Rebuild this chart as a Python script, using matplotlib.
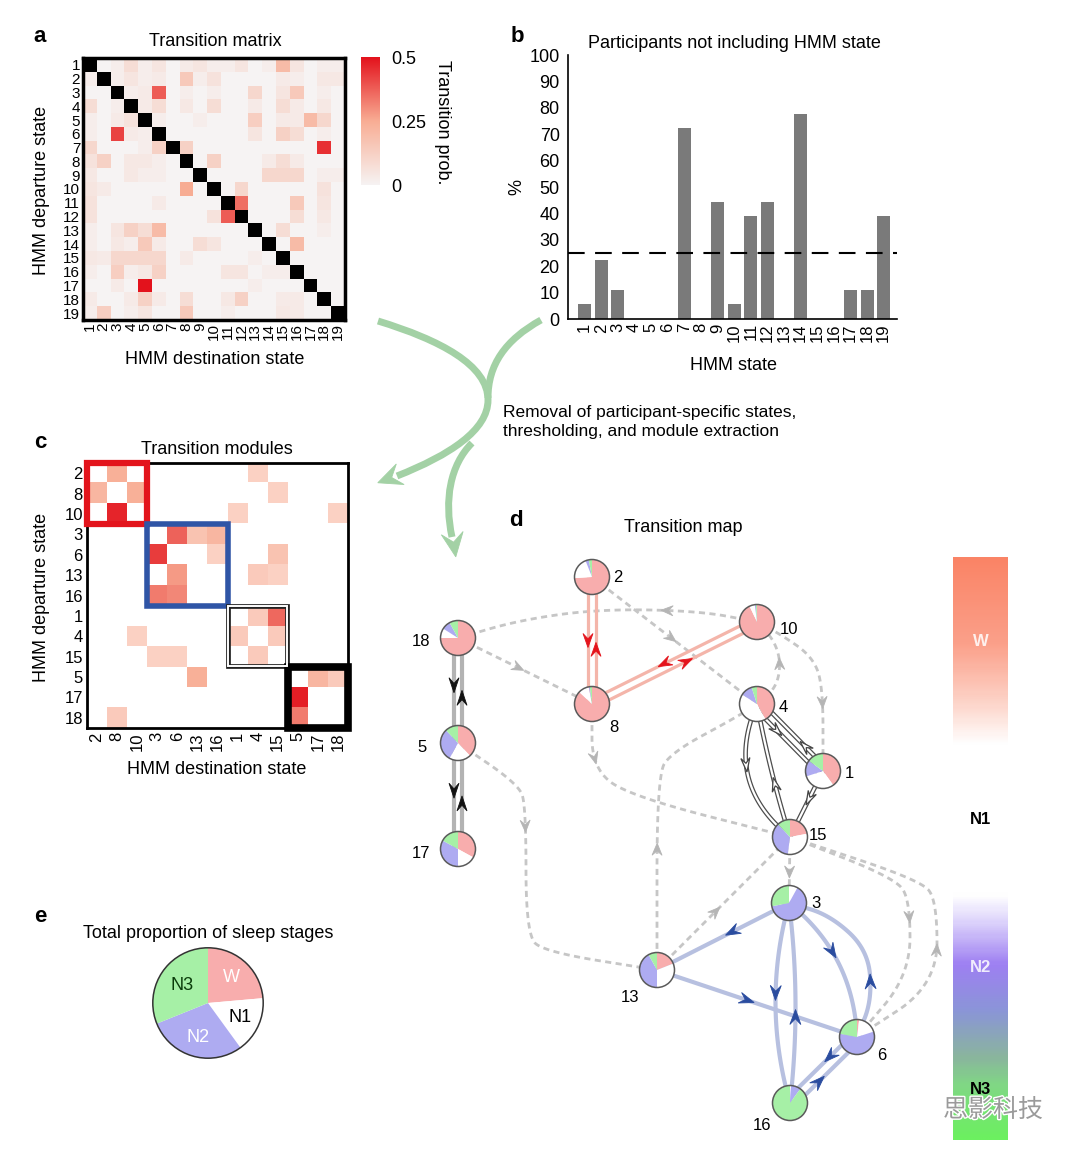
import numpy as np
import matplotlib
matplotlib.use("Agg")
import matplotlib.pyplot as plt
from matplotlib.colors import LinearSegmentedColormap
from matplotlib.patches import Wedge, Circle, Polygon, Rectangle, PathPatch
from matplotlib.path import Path
import matplotlib.patheffects as pe

plt.rcParams['font.family'] = ['Liberation Sans', 'DejaVu Sans']

# ---------------------------------------------------------------- data
D = np.nan
states_a = list(range(1, 20))
trans_prob_a = [
    [D, 0, .02, .08, .02, .05, 0, .03, .05, .02, .02, .05, 0, .02, .20, .05, 0, .02, .02],
    [.02, D, .02, .05, .02, .03, 0, .15, .02, .06, 0, 0, 0, 0, .03, .02, 0, .04, .04],
    [0, 0, D, .02, .03, .38, 0, .02, 0, .02, 0, 0, .10, 0, .05, .15, 0, .02, 0],
    [.08, 0, .02, D, .03, .08, 0, .04, 0, .08, 0, 0, .03, 0, .08, .03, 0, .04, 0],
    [.02, 0, .03, .06, D, .02, 0, 0, .02, 0, 0, 0, .13, 0, .03, .03, .20, .10, 0],
    [.02, 0, .42, .03, .02, D, 0, 0, 0, 0, 0, 0, .05, 0, .12, .08, 0, .02, 0],
    [.10, 0, 0, 0, .02, .12, D, .12, 0, 0, 0, 0, 0, 0, 0, 0, 0, .45, 0],
    [.06, .12, 0, .04, .04, .02, 0, D, 0, .12, 0, 0, 0, .03, .08, .03, 0, 0, 0],
    [.04, 0, 0, .04, .02, .02, 0, 0, D, 0, 0, 0, 0, .10, .10, .10, 0, .02, .02],
    [.05, .03, 0, 0, 0, 0, 0, .25, 0, D, 0, .10, 0, 0, 0, 0, 0, .06, 0],
    [.06, 0, 0, 0, 0, .03, 0, 0, 0, 0, D, .35, 0, 0, 0, .15, 0, .05, 0],
    [.06, 0, 0, 0, 0, 0, 0, 0, 0, .06, .38, D, 0, 0, 0, .08, 0, .04, 0],
    [.02, 0, .05, .12, .08, .20, 0, 0, 0, 0, 0, 0, D, 0, .08, 0, 0, .02, 0],
    [.02, 0, .04, .02, .15, .03, 0, 0, .08, .05, 0, 0, 0, D, 0, .20, 0, 0, 0],
    [.04, .03, .10, .10, .10, .10, 0, .03, 0, 0, 0, 0, .02, 0, D, 0, 0, 0, 0],
    [.02, 0, .13, .02, .04, .12, 0, 0, 0, 0, .05, .05, 0, .02, .02, D, 0, 0, 0],
    [0, 0, .03, 0, .50, 0, 0, 0, 0, 0, 0, 0, .02, 0, 0, 0, D, 0, 0],
    [.03, 0, 0, .03, .12, .03, 0, .08, 0, 0, .04, .12, 0, 0, .03, .03, 0, D, 0],
    [.02, .13, 0, .02, .05, 0, 0, .15, 0, 0, .02, 0, 0, 0, .04, .03, 0, 0, D],
]
cbar_ticks_a = [0, 0.25, 0.5]
cbar_ticklabels_a = ['0', '0.25', '0.5']

bar_states = list(range(1, 20))
pct_not_including = [5.56, 22.2, 11.1, 0, 0, 0, 72.2, 0, 44.4, 5.56,
                     38.9, 44.4, 0, 77.8, 0, 0, 11.1, 11.1, 38.9]
threshold_pct = 25

module_order = [2, 8, 10, 3, 6, 13, 16, 1, 4, 15, 5, 17, 18]
module_sizes = [3, 4, 3, 3]
trans_prob_c = [
    [0, .24, 0, 0, 0, 0, 0, 0, .14, 0, 0, 0, 0],
    [.22, 0, .24, 0, 0, 0, 0, 0, 0, .14, 0, 0, 0],
    [0, .47, 0, 0, 0, 0, 0, .14, 0, 0, 0, 0, .14],
    [0, 0, 0, 0, .37, .18, .22, 0, 0, 0, 0, 0, 0],
    [0, 0, 0, .43, 0, 0, .14, 0, 0, .18, 0, 0, 0],
    [0, 0, 0, 0, .28, 0, 0, 0, .16, .14, 0, 0, 0],
    [0, 0, 0, .33, .31, 0, 0, 0, 0, 0, 0, 0, 0],
    [0, 0, 0, 0, 0, 0, 0, 0, .16, .36, 0, 0, 0],
    [0, 0, .14, 0, 0, 0, 0, .16, 0, .16, 0, 0, 0],
    [0, 0, 0, .14, .14, 0, 0, 0, .16, 0, 0, 0, 0],
    [0, 0, 0, 0, 0, .24, 0, 0, 0, 0, 0, .22, .16],
    [0, 0, 0, 0, 0, 0, 0, 0, 0, 0, .48, 0, 0],
    [0, .16, 0, 0, 0, 0, 0, 0, 0, 0, .33, 0, 0],
]

stage_names = ['W', 'N1', 'N2', 'N3']
total_stage_prop = [0.236, 0.164, 0.289, 0.311]
node_stage_prop = {
    2: [0.74, 0.20, 0.03, 0.03], 10: [0.93, 0.05, 0.01, 0.01],
    8: [0.87, 0.10, 0.01, 0.02], 18: [0.75, 0.09, 0.08, 0.08],
    4: [0.42, 0.42, 0.11, 0.05], 1: [0.40, 0.30, 0.15, 0.15],
    5: [0.38, 0.20, 0.30, 0.12], 17: [0.33, 0.17, 0.33, 0.17],
    15: [0.22, 0.30, 0.36, 0.12], 3: [0.00, 0.08, 0.64, 0.28],
    13: [0.19, 0.31, 0.42, 0.08], 6: [0.02, 0.18, 0.58, 0.22],
    16: [0.00, 0.01, 0.09, 0.90],
}
# transitions of the map: (from, to, module)
map_edges = [
    (2, 8, 'W'), (8, 2, 'W'), (10, 8, 'W'), (8, 10, 'W'),
    (18, 5, 'K'), (5, 18, 'K'), (5, 17, 'K'), (17, 5, 'K'),
    (4, 15, 'N1'), (15, 4, 'N1'), (4, 1, 'N1'), (1, 4, 'N1'), (1, 15, 'N1'),
    (3, 13, 'N2'), (13, 6, 'N2'), (3, 16, 'N2'), (16, 3, 'N2'),
    (3, 6, 'N2'), (6, 3, 'N2'), (6, 16, 'N2'), (16, 6, 'N2'),
    (18, 8, 'X'), (10, 18, 'X'), (2, 4, 'X'), (4, 10, 'X'), (10, 1, 'X'),
    (8, 15, 'X'), (5, 13, 'X'), (13, 4, 'X'), (13, 15, 'X'), (15, 3, 'X'),
    (15, 6, 'X'), (6, 15, 'X'),
]
scale_labels = ['W', 'N1', 'N2', 'N3']

# ---------------------------------------------------------------- layout / style
W, H = 1080, 1159
fig = plt.figure(figsize=(W / 100, H / 100), dpi=100)
fig.patch.set_facecolor('white')


def add_ax(l, t, r, b, **kw):
    return fig.add_axes([l / W, 1 - b / H, (r - l) / W, (b - t) / H], **kw)


stage_colors = ['#f8adad', '#ffffff', '#aeabf1', '#a6f0a6']
TXT = 13

ov = add_ax(0, 0, W, H)
ov.set_xlim(0, W)
ov.set_ylim(H, 0)
ov.axis('off')

# panel letters
for lab, (x, y) in {'a': (40, 36), 'b': (517, 36), 'c': (40, 442),
                    'd': (516, 520), 'e': (40, 916)}.items():
    ov.text(x, y, lab, fontsize=16, fontweight='bold', ha='center', va='center')

# ---------------------------------------------------------------- panel a
cmap_a = LinearSegmentedColormap.from_list('a', [(0, '#f6f3f3'), (0.5, '#f8ad94'), (1, '#e3121c')])
cmap_a.set_bad('black')
axa = add_ax(83, 58, 345, 320)
im = axa.imshow(np.array(trans_prob_a), cmap=cmap_a, vmin=0, vmax=0.5,
                aspect='auto', interpolation='nearest')
axa.set_xticks(range(len(states_a)))
axa.set_xticklabels(states_a, rotation=90, fontsize=11)
axa.set_yticks(range(len(states_a)))
axa.set_yticklabels(states_a, fontsize=11)
axa.tick_params(length=0, pad=2)
for s in axa.spines.values():
    s.set_linewidth(2.5)
ov.text(215, 42, 'Transition matrix', fontsize=TXT, ha='center', va='center')
ov.text(42, 190, 'HMM departure state', fontsize=TXT, ha='center', va='center', rotation=90)
ov.text(215, 360, 'HMM destination state', fontsize=TXT, ha='center', va='center')

cax = add_ax(361, 57, 380, 185)
cb = fig.colorbar(im, cax=cax, ticks=cbar_ticks_a)
cb.set_ticklabels(cbar_ticklabels_a)
cb.outline.set_visible(False)
cax.tick_params(length=0, labelsize=13, pad=8)
ov.text(442, 122, 'Transition prob.', fontsize=TXT, ha='center', va='center', rotation=-90)

# ---------------------------------------------------------------- panel b
axb = add_ax(568, 55, 897, 319)
axb.bar(bar_states, pct_not_including, width=0.78, color='#7a7a7a')
axb.axhline(threshold_pct, color='black', lw=1.5, ls=(0, (8, 5)))
axb.set_xlim(0, 19.8)
axb.set_ylim(0, 100)
axb.set_yticks(range(0, 101, 10))
axb.set_xticks(bar_states)
axb.set_xticklabels(bar_states, rotation=90, fontsize=12)
axb.set_xticks([5, 10, 15], minor=True)
axb.tick_params(axis='y', length=0, labelsize=13, pad=6)
axb.tick_params(axis='x', which='major', length=0, pad=3)
axb.tick_params(axis='x', which='minor', length=4, direction='in', width=1)
for s in ['top', 'right']:
    axb.spines[s].set_visible(False)
for s in ['left', 'bottom']:
    axb.spines[s].set_linewidth(1.2)
ov.text(734, 44, 'Participants not including HMM state', fontsize=TXT, ha='center', va='center')
ov.text(517, 187, '%', fontsize=TXT, ha='center', va='center', rotation=90)
ov.text(734, 366, 'HMM state', fontsize=TXT, ha='center', va='center')

# ---------------------------------------------------------------- panel c
cmap_c = LinearSegmentedColormap.from_list('c', [(0, '#ffffff'), (0.5, '#f8ad94'), (1, '#e3121c')])
axc = add_ax(87, 463, 348, 728)
axc.imshow(np.array(trans_prob_c), cmap=cmap_c, vmin=0, vmax=0.5,
           aspect='auto', interpolation='nearest')
axc.set_xticks(range(len(module_order)))
axc.set_xticklabels(module_order, rotation=90, fontsize=12)
axc.set_yticks(range(len(module_order)))
axc.set_yticklabels(module_order, fontsize=12)
axc.tick_params(length=0, pad=3)
for s in axc.spines.values():
    s.set_linewidth(2.0)
start = 0
box_styles = [dict(ec='#e3141c', lw=4.5), dict(ec='#2f55a6', lw=4.0),
              'double', dict(ec='black', lw=5.5)]
for size, st in zip(module_sizes, box_styles):
    x0 = start - 0.5
    if st == 'double':
        axc.add_patch(Rectangle((x0 + 0.02, x0 + 0.02), size - 0.04, size - 0.04, fill=False,
                                ec='#222222', lw=3.4, clip_on=False, zorder=5))
        axc.add_patch(Rectangle((x0 + 0.02, x0 + 0.02), size - 0.04, size - 0.04, fill=False,
                                ec='white', lw=1.4, clip_on=False, zorder=6))
    else:
        axc.add_patch(Rectangle((x0, x0), size, size, fill=False, clip_on=False,
                                zorder=5, **st))
    start += size
ov.text(217, 449, 'Transition modules', fontsize=TXT, ha='center', va='center')
ov.text(42, 597, 'HMM departure state', fontsize=TXT, ha='center', va='center', rotation=90)
ov.text(217, 770, 'HMM destination state', fontsize=TXT, ha='center', va='center')

# ---------------------------------------------------------------- helpers
def chaikin(pts, n=4):
    pts = np.asarray(pts, float)
    for _ in range(n):
        q = 0.75 * pts[:-1] + 0.25 * pts[1:]
        r = 0.25 * pts[:-1] + 0.75 * pts[1:]
        new = np.empty((2 * len(q), 2))
        new[0::2] = q
        new[1::2] = r
        pts = np.vstack([pts[:1], new, pts[-1:]])
    return pts


def qbez(p0, c, p1, n=60):
    t = np.linspace(0, 1, n)[:, None]
    return (1 - t) ** 2 * p0 + 2 * (1 - t) * t * c + t ** 2 * p1


def point_at(pts, frac):
    seg = np.hypot(*np.diff(pts, axis=0).T)
    cum = np.concatenate([[0], np.cumsum(seg)])
    s = frac * cum[-1]
    i = int(np.clip(np.searchsorted(cum, s) - 1, 0, len(seg) - 1))
    t = (s - cum[i]) / max(seg[i], 1e-9)
    return pts[i] + t * (pts[i + 1] - pts[i]), pts[i + 1] - pts[i]


def arrowhead(p, d, L, Wd, fc, ec=None, lw=0.6, z=8):
    u = np.asarray(d, float)
    u = u / np.linalg.norm(u)
    nrm = np.array([-u[1], u[0]])
    tip = p + u * L * 0.5
    back = p - u * L * 0.5
    notch = p - u * L * 0.12
    ov.add_patch(Polygon([tip, back + nrm * Wd / 2, notch, back - nrm * Wd / 2], closed=True,
                         fc=fc, ec=ec or fc, lw=lw, zorder=z, joinstyle='miter'))


# ---------------------------------------------------------------- green flow arrows
green = '#a3d1a5'
flow_paths = [
    [(378, 321), (440, 340), (488, 365), (488, 400), (488, 430), (450, 455), (397, 476)],
    [(541, 320), (505, 340), (488, 365), (488, 398)],
    [(472, 443), (450, 465), (444, 500), (452, 537)],
]
for verts in flow_paths:
    codes = [Path.MOVETO] + [Path.CURVE4] * (len(verts) - 1)
    ov.add_patch(PathPatch(Path(verts, codes), fill=False, ec=green, lw=5.0,
                           capstyle='butt', zorder=1))
arrowhead(np.array([389, 478.5]), (-1, 0.38), 24, 22, green, z=1)
arrowhead(np.array([454, 545]), (0.15, 1), 24, 22, green, z=1)
ov.text(503, 422, 'Removal of participant-specific states,\nthresholding, and module extraction',
        fontsize=12.5, ha='left', va='center', linespacing=1.35)

# ---------------------------------------------------------------- panel d
ov.text(683, 528, 'Transition map', fontsize=TXT, ha='center', va='center')
node_xy = {2: (592, 577), 10: (757, 622), 18: (458, 638), 8: (592, 704), 4: (757, 704),
           1: (823, 771), 5: (458, 743), 15: (790, 837), 17: (458, 849), 3: (789, 903),
           13: (657, 970), 6: (857, 1037), 16: (790, 1103)}
label_xy = {2: (618, 577), 10: (789, 629), 18: (421, 641), 8: (614, 728), 4: (783, 707),
            1: (849, 774), 5: (422, 747), 15: (818, 835), 17: (421, 853), 3: (816, 903),
            13: (630, 997), 6: (882, 1056), 16: (762, 1125)}
R = 17.5
edge_layout = {
    (2, 8): dict(offset=4, frac=0.5), (8, 2): dict(offset=4, frac=0.43),
    (10, 8): dict(offset=4, frac=0.55), (8, 10): dict(offset=4, frac=0.56),
    (18, 5): dict(offset=4, frac=0.45), (5, 18): dict(offset=4, frac=0.43),
    (5, 17): dict(offset=4, frac=0.45), (17, 5): dict(offset=4, frac=0.43),
    (4, 15): dict(bend=52, frac=0.42), (15, 4): dict(bend=-4, frac=0.4),
    (4, 1): dict(offset=4.5, frac=0.35), (1, 4): dict(offset=4.5, frac=0.32),
    (1, 15): dict(offset=0, frac=0.42),
    (3, 13): dict(frac=0.43), (13, 6): dict(frac=0.45),
    (3, 16): dict(bend=28, frac=0.45), (16, 3): dict(bend=12, frac=0.43),
    (3, 6): dict(bend=-34, frac=0.42),
    (6, 3): dict(via=[(872, 1000), (868, 950), (830, 915)], frac=0.32),
    (6, 16): dict(offset=5, frac=0.35), (16, 6): dict(offset=5, frac=0.38),
    (18, 8): dict(frac=0.45),
    (10, 18): dict(via=[(700, 611), (600, 609), (520, 620)], frac=0.3),
    (2, 4): dict(frac=0.48),
    (4, 10): dict(via=[(776, 688), (781, 663), (774, 640)], frac=0.5),
    (10, 1): dict(via=[(780, 634), (812, 656), (823, 685)], frac=0.62),
    (8, 15): dict(via=[(592, 772), (640, 799)], frac=0.2),
    (5, 13): dict(via=[(518, 784), (526, 805), (526, 935), (545, 952)], frac=0.32),
    (13, 4): dict(via=[(657, 775), (672, 752), (735, 718)], frac=0.38),
    (13, 15): dict(frac=0.44), (15, 3): dict(frac=0.53),
    (15, 6): dict(via=[(895, 878), (910, 900), (910, 975)], frac=0.53),
    (6, 15): dict(via=[(937, 985), (937, 900), (920, 880)], frac=0.37),
}
module_style = {
    'W': dict(line='#f4b5aa', lw=2.3, head='#e4141c', L=14, Wd=10),
    'K': dict(line='#b3b3b3', lw=3.0, head='#111111', L=15, Wd=10),
    'N1': dict(line='#4d4d4d', lw=3.4, head='white', L=14, Wd=9),
    'N2': dict(line='#b7c0e0', lw=3.0, head='#2a4c9f', L=15, Wd=11),
    'X': dict(line='#c6c6c6', lw=2.0, head='#b5b5b5', L=12, Wd=10),
}


def edge_path(src, dst, offset=0, bend=0, via=None, **_):
    p0 = np.array(node_xy[src], float)
    p1 = np.array(node_xy[dst], float)
    d = (p1 - p0) / np.linalg.norm(p1 - p0)
    nrm = np.array([-d[1], d[0]])
    if via:
        pts = chaikin([p0] + [np.array(v, float) for v in via] + [p1], 4)
    else:
        pts = qbez(p0, (p0 + p1) / 2 + nrm * bend, p1)
    return pts + nrm * offset


for src, dst, mod in map_edges:
    lay = edge_layout[(src, dst)]
    st = module_style[mod]
    pts = edge_path(src, dst, **lay)
    if mod == 'X':
        ov.plot(pts[:, 0], pts[:, 1], color=st['line'], lw=st['lw'], ls=(0, (2.2, 1.6)),
                zorder=2, solid_capstyle='butt')
    elif mod == 'N1':
        ov.plot(pts[:, 0], pts[:, 1], color=st['line'], lw=st['lw'], zorder=3, solid_capstyle='butt')
        ov.plot(pts[:, 0], pts[:, 1], color='white', lw=1.6, zorder=3.1, solid_capstyle='butt')
    else:
        ov.plot(pts[:, 0], pts[:, 1], color=st['line'], lw=st['lw'], zorder=3, solid_capstyle='butt')
    p, d = point_at(pts, lay['frac'])
    if mod == 'N1':
        arrowhead(p, d, st['L'], st['Wd'], 'white', ec='#444444', lw=0.9, z=7)
    else:
        arrowhead(p, d, st['L'], st['Wd'], st['head'], z=7)

for n, (x, y) in node_xy.items():
    a0 = 270.0
    for f, col in zip(node_stage_prop[n], stage_colors):
        if f <= 0:
            continue
        ov.add_patch(Wedge((x, y), R, a0, a0 + 360 * f, fc=col, ec='none', zorder=10))
        a0 += 360 * f
    ov.add_patch(Circle((x, y), R, fill=False, ec='#5a5a5a', lw=1.1, zorder=11))
    ov.text(*label_xy[n], str(n), fontsize=12, ha='center', va='center', zorder=12)

# stage colour scale
stage_scale = LinearSegmentedColormap.from_list('stage', [
    (0.0, '#fa8466'), (0.147, '#fba08a'), (0.25, '#fdd5ca'), (0.32, '#ffffff'),
    (0.58, '#ffffff'), (0.62, '#e2dafc'), (0.70, '#9e80f2'), (0.78, '#8b95d8'),
    (0.86, '#8ab59e'), (0.91, '#80d884'), (1.0, '#6cf060')])
sc_top, sc_bot = 557, 1140
axs = add_ax(953, sc_top, 1008, sc_bot)
axs.imshow(np.linspace(0, 1, 300)[:, None], cmap=stage_scale, aspect='auto')
axs.axis('off')
scale_label_y = [641, 820, 968, 1090]
scale_label_col = ['#ffffff', '#000000', '#ffffff', '#000000']
for lab, y, col in zip(scale_labels, scale_label_y, scale_label_col):
    axs.text(0.5, 1 - (y - sc_top) / (sc_bot - sc_top), lab, transform=axs.transAxes,
             fontsize=12, fontweight='bold', color=col, ha='center', va='center',
             alpha=0.85 if col == '#ffffff' else 1)

# watermark
wm = fig.text(993 / W, 1 - 1110 / H, '思影科技', fontsize=18, color='#9a9a9a',
              ha='center', va='center', family=['Noto Sans CJK SC', 'DejaVu Sans'])
wm.set_path_effects([pe.withStroke(linewidth=2, foreground='white')])

# ---------------------------------------------------------------- panel e
ov.text(208, 933, 'Total proportion of sleep stages', fontsize=TXT, ha='center', va='center')
axe = add_ax(208 - 69, 1003 - 69, 208 + 69, 1003 + 69)
wedges, _ = axe.pie(total_stage_prop, colors=stage_colors, startangle=90, counterclock=False,
                    wedgeprops=dict(linewidth=0))
axe.add_patch(Circle((0, 0), 1, fill=False, ec='#333333', lw=1.1))
label_cols = ['white', 'black', 'white', '#0b3d0b']
label_r = [0.62, 0.64, 0.65, 0.56]
for w, lab, c, rr in zip(wedges, stage_names, label_cols, label_r):
    ang = np.deg2rad((w.theta1 + w.theta2) / 2)
    axe.text(rr * np.cos(ang), rr * np.sin(ang), lab, color=c, fontsize=13,
             ha='center', va='center')

fig.savefig('out.png', dpi=100)
